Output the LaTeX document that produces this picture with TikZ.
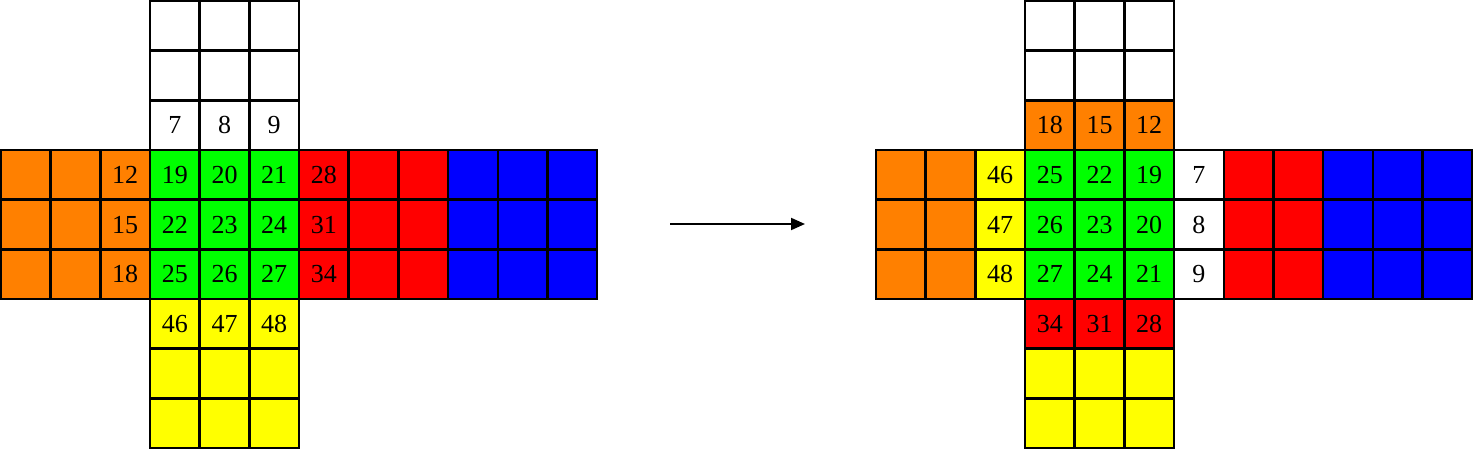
\documentclass[tikz,border=0pt]{standalone}
\usepackage{fontspec}
\setmainfont{Liberation Serif}
\usetikzlibrary{arrows.meta}
\definecolor{corange}{HTML}{FF8000}
\definecolor{cgreen}{HTML}{00FF00}
\definecolor{cred}{HTML}{FF0000}
\definecolor{cblue}{HTML}{0000FF}
\definecolor{cyellow}{HTML}{FFFF00}
\def\xo{1}
\newcommand\sq[5]{\node[cellbox,fill=#4] (#1) at ({\xo+(#2+0.5)*49.67},{1+(#3+0.5)*49.67}) {#5};}
\begin{document}
\begin{tikzpicture}[x=1pt,y=-1pt,
  cellbox/.style={draw=black,line width=2.4pt,minimum size=49.67pt,inner sep=0pt,outer sep=0pt,
    font=\fontsize{26}{26}\selectfont,text=black,text height=17.6pt,text depth=0pt},
  arrowline/.style={line width=2pt,-{Triangle[length=14pt,width=12pt]}}]
\useasboundingbox (0,0) rectangle (1473,449);
% ---------- left net ----------
\def\xo{1}
\foreach \c in {3,4,5} \foreach \r in {0,1} {\sq{L-\c-\r}{\c}{\r}{white}{}}
\sq{L-3-2}{3}{2}{white}{7}
\sq{L-4-2}{4}{2}{white}{8}
\sq{L-5-2}{5}{2}{white}{9}
\foreach \c in {0,1} \foreach \r in {3,4,5} {\sq{L-\c-\r}{\c}{\r}{corange}{}}
\sq{L-2-3}{2}{3}{corange}{12}
\sq{L-2-4}{2}{4}{corange}{15}
\sq{L-2-5}{2}{5}{corange}{18}
\sq{L-3-3}{3}{3}{cgreen}{19}
\sq{L-4-3}{4}{3}{cgreen}{20}
\sq{L-5-3}{5}{3}{cgreen}{21}
\sq{L-3-4}{3}{4}{cgreen}{22}
\sq{L-4-4}{4}{4}{cgreen}{23}
\sq{L-5-4}{5}{4}{cgreen}{24}
\sq{L-3-5}{3}{5}{cgreen}{25}
\sq{L-4-5}{4}{5}{cgreen}{26}
\sq{L-5-5}{5}{5}{cgreen}{27}
\sq{L-6-3}{6}{3}{cred}{28}
\sq{L-6-4}{6}{4}{cred}{31}
\sq{L-6-5}{6}{5}{cred}{34}
\foreach \c in {7,8} \foreach \r in {3,4,5} {\sq{L-\c-\r}{\c}{\r}{cred}{}}
\foreach \c in {9,10,11} \foreach \r in {3,4,5} {\sq{L-\c-\r}{\c}{\r}{cblue}{}}
\sq{L-3-6}{3}{6}{cyellow}{46}
\sq{L-4-6}{4}{6}{cyellow}{47}
\sq{L-5-6}{5}{6}{cyellow}{48}
\foreach \c in {3,4,5} \foreach \r in {7,8} {\sq{L-\c-\r}{\c}{\r}{cyellow}{}}
% ---------- right net ----------
\def\xo{876}
\foreach \c in {3,4,5} \foreach \r in {0,1} {\sq{R-\c-\r}{\c}{\r}{white}{}}
\sq{R-3-2}{3}{2}{corange}{18}
\sq{R-4-2}{4}{2}{corange}{15}
\sq{R-5-2}{5}{2}{corange}{12}
\foreach \c in {0,1} \foreach \r in {3,4,5} {\sq{R-\c-\r}{\c}{\r}{corange}{}}
\sq{R-2-3}{2}{3}{cyellow}{46}
\sq{R-2-4}{2}{4}{cyellow}{47}
\sq{R-2-5}{2}{5}{cyellow}{48}
\sq{R-3-3}{3}{3}{cgreen}{25}
\sq{R-4-3}{4}{3}{cgreen}{22}
\sq{R-5-3}{5}{3}{cgreen}{19}
\sq{R-3-4}{3}{4}{cgreen}{26}
\sq{R-4-4}{4}{4}{cgreen}{23}
\sq{R-5-4}{5}{4}{cgreen}{20}
\sq{R-3-5}{3}{5}{cgreen}{27}
\sq{R-4-5}{4}{5}{cgreen}{24}
\sq{R-5-5}{5}{5}{cgreen}{21}
\sq{R-6-3}{6}{3}{white}{7}
\sq{R-6-4}{6}{4}{white}{8}
\sq{R-6-5}{6}{5}{white}{9}
\foreach \c in {7,8} \foreach \r in {3,4,5} {\sq{R-\c-\r}{\c}{\r}{cred}{}}
\foreach \c in {9,10,11} \foreach \r in {3,4,5} {\sq{R-\c-\r}{\c}{\r}{cblue}{}}
\sq{R-3-6}{3}{6}{cred}{34}
\sq{R-4-6}{4}{6}{cred}{31}
\sq{R-5-6}{5}{6}{cred}{28}
\foreach \c in {3,4,5} \foreach \r in {7,8} {\sq{R-\c-\r}{\c}{\r}{cyellow}{}}
% ---------- arrow ----------
\coordinate (a1) at (670,224);
\coordinate (a2) at (805,224);
\draw[arrowline] (a1) -- (a2);
\end{tikzpicture}
\end{document}
